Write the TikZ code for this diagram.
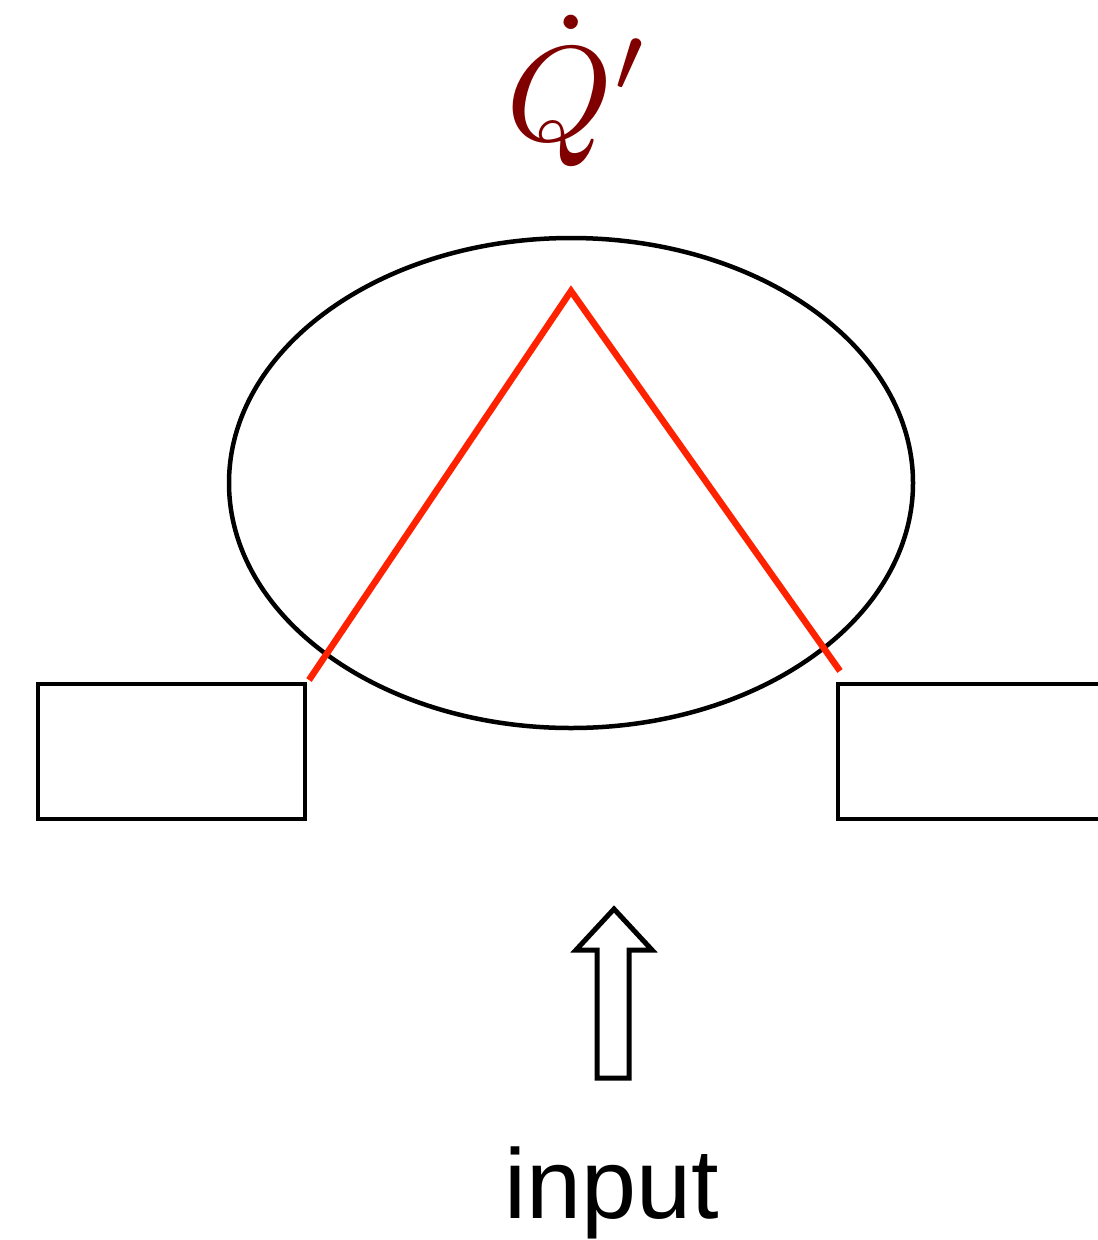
\documentclass[tikz,border=0pt]{standalone}
\usepackage{fontspec}
\newfontfamily\labelfont{Liberation Sans}
\definecolor{qred}{HTML}{800000}
\definecolor{lred}{HTML}{FF2200}
\begin{document}
\begin{tikzpicture}[x=1pt,y=-1pt,
  box/.style={draw=black,line width=4.5pt,minimum width=267pt,minimum height=135pt,inner sep=0pt,outer sep=0pt,anchor=north west},
  redline/.style={draw=lred,line width=6.5pt,line cap=butt,line join=miter},
  hollowarrow/.style={draw=black,line width=5pt,fill=white,line join=miter}]
\useasboundingbox (0,0) rectangle (1098,1240);
% ellipse
\draw[line width=4.5pt] (571,483) ellipse [x radius=342, y radius=245];
% rectangles
\node[box] (lbox) at (38,684) {};
\draw[line width=4.5pt] (1110,684) -- (838,684) -- (838,819) -- (1110,819);
\coordinate (rbox) at (838,684);
% red lines
\coordinate (rl) at (309,680);
\coordinate (rt) at (571,291);
\coordinate (rr) at (840,671);
\draw[redline] (rl) -- (rt) -- (rr);
% hollow arrow
\draw[hollowarrow] (597,1078) -- (629,1078) -- (629,950) -- (652,950) -- (614,909) -- (576,950) -- (597,950) -- cycle;
% labels
\node[anchor=base,inner sep=0pt,text=qred] (q) at (579,140) {\scalebox{13.5}{$\dot{Q}'$}};
\node[anchor=base,inner sep=0pt,font=\labelfont\fontsize{99}{99}\selectfont] (inp) at (612,1218) {input};
\end{tikzpicture}
\end{document}
